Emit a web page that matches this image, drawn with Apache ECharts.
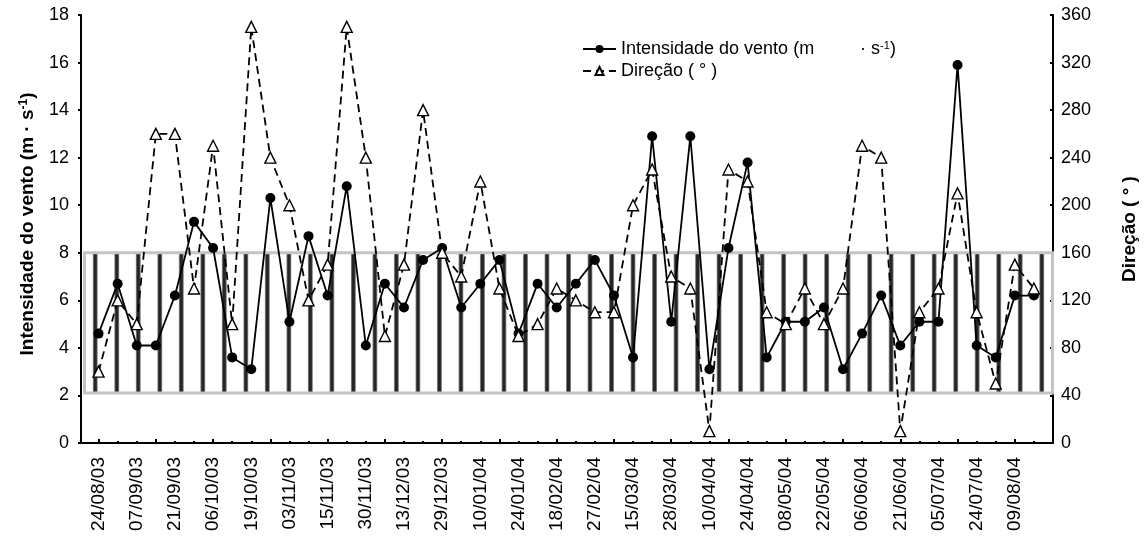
<!DOCTYPE html>
<html>
<head>
<meta charset="utf-8">
<script src="https://cdn.jsdelivr.net/npm/echarts@6/dist/echarts.min.js"></script>
<style>
  html, body { margin: 0; padding: 0; background: #fff; }
  #chart { width: 1148px; height: 539px; }
</style>
</head>
<body>
<div id="chart"></div>
<script>
// Dates printed under every second observation
const dateLabels = [
  '24/08/03', '07/09/03', '21/09/03', '06/10/03', '19/10/03', '03/11/03', '15/11/03',
  '30/11/03', '13/12/03', '29/12/03', '10/01/04', '24/01/04', '18/02/04', '27/02/04',
  '15/03/04', '28/03/04', '10/04/04', '24/04/04', '08/05/04', '22/05/04', '06/06/04',
  '21/06/04', '05/07/04', '24/07/04', '09/08/04'
];

// Wind speed (m s-1), one value per observation
const intensity = [
  4.6, 6.7, 4.1, 4.1, 6.2, 9.3, 8.2, 3.6, 3.1, 10.3,
  5.1, 8.7, 6.2, 10.8, 4.1, 6.7, 5.7, 7.7, 8.2, 5.7,
  6.7, 7.7, 4.6, 6.7, 5.7, 6.7, 7.7, 6.2, 3.6, 12.9,
  5.1, 12.9, 3.1, 8.2, 11.8, 3.6, 5.1, 5.1, 5.7, 3.1,
  4.6, 6.2, 4.1, 5.1, 5.1, 15.9, 4.1, 3.6, 6.2, 6.2
];

// Wind direction (degrees), one value per observation
const direction = [
  60, 120, 100, 260, 260, 130, 250, 100, 350, 240,
  200, 120, 150, 350, 240, 90, 150, 280, 160, 140,
  220, 130, 90, 100, 130, 120, 110, 110, 200, 230,
  140, 130, 10, 230, 220, 110, 100, 130, 100, 130,
  250, 240, 10, 110, 130, 210, 110, 50, 150, 130
];

// Reference band on the speed axis (m s-1), shown as a striped box
const bandLow = 2.1;
const bandHigh = 8;
const stripeCount = 45;

const speedAxis = { min: 0, max: 18, interval: 2 };
const dirAxis = { min: 0, max: 360, interval: 40 };

const speedName = 'Intensidade do vento';
const dirName = 'Direção';

const FONT = '"Liberation Sans", Arial, sans-serif';

const obsIndex = intensity.map((_, i) => i);
const speedData = intensity.map((v, i) => [i, v]);
const dirData = direction.map((v, i) => [i, v]);
const labelPositions = dateLabels.map((_, i) => i * 2);
const majorTickPositions = obsIndex.filter(i => i % 3 === 0);
const stripeSlots = Array.from({ length: stripeCount }, (_, i) => i);

const chart = echarts.init(document.getElementById('chart'), null, { renderer: 'canvas' });

const stripeColor = new echarts.graphic.LinearGradient(0, 0, 1, 0, [
  { offset: 0, color: '#a8a8a8' },
  { offset: 0.3, color: '#262626' },
  { offset: 0.7, color: '#262626' },
  { offset: 1, color: '#a8a8a8' }
]);

const option = {
  backgroundColor: '#fff',
  animation: false,
  textStyle: { fontFamily: FONT, color: '#000' },
  legend: {
    left: 582,
    top: 40,
    orient: 'vertical',
    itemGap: 4,
    itemWidth: 33,
    itemHeight: 10,
    itemTextGap: 12,
    padding: 0,
    selectedMode: false,
    data: [speedName, dirName],
    formatter: function (name) {
      return name === speedName
        ? 'Intensidade do vento (m{gap| }· s{sup|-1})'
        : 'Direção ( ° )';
    },
    textStyle: {
      fontFamily: FONT,
      fontSize: 18,
      color: '#000',
      rich: {
        gap: { width: 46, fontSize: 18 },
        sup: { fontSize: 11, verticalAlign: 'top', fontFamily: FONT, color: '#000' }
      }
    }
  },
  grid: [
    { left: 81, right: 95, top: 15, bottom: 96 },
    { left: 84.5, right: 95.5, top: 15, bottom: 96 }
  ],
  xAxis: [
    {
      type: 'value',
      gridIndex: 0,
      min: -0.92,
      max: 50,
      position: 'bottom',
      splitLine: { show: false },
      axisLine: { show: true, onZero: false, lineStyle: { color: '#000', width: 2 } },
      axisTick: {
        show: true, inside: true, length: 4,
        customValues: majorTickPositions,
        lineStyle: { color: '#000', width: 2 }
      },
      axisLabel: {
        show: true,
        customValues: labelPositions,
        rotate: 90,
        margin: 14,
        fontSize: 19,
        fontFamily: FONT,
        color: '#000',
        formatter: function (v) { return dateLabels[Math.round(v / 2)]; }
      }
    },
    {
      type: 'value',
      gridIndex: 0,
      min: -0.92,
      max: 50,
      position: 'bottom',
      splitLine: { show: false },
      axisLine: { show: false, onZero: false },
      axisTick: {
        show: true, inside: true, length: 2,
        customValues: obsIndex,
        lineStyle: { color: '#000', width: 2 }
      },
      axisLabel: { show: false }
    },
    {
      type: 'category',
      gridIndex: 1,
      data: stripeSlots,
      boundaryGap: true,
      show: false
    }
  ],
  yAxis: [
    {
      type: 'value',
      gridIndex: 0,
      position: 'left',
      min: speedAxis.min, max: speedAxis.max, interval: speedAxis.interval,
      splitLine: { show: false },
      axisLine: { show: true, onZero: false, lineStyle: { color: '#000', width: 2 } },
      axisTick: { show: true, inside: false, length: 3, lineStyle: { color: '#000', width: 2 } },
      axisLabel: { fontSize: 18, fontFamily: FONT, color: '#000', margin: 12 },
      name: 'Intensidade do vento (m \u00b7 s{sup|-1})',
      nameLocation: 'middle',
      nameRotate: 90,
      nameGap: 44,
      nameTextStyle: {
        fontSize: 19, fontWeight: 'bold', fontFamily: FONT, color: '#000',
        padding: [0, 0, 0, 10],
        rich: { sup: { fontSize: 12, fontWeight: 'bold', verticalAlign: 'top', fontFamily: FONT, color: '#000' } }
      }
    },
    {
      type: 'value',
      gridIndex: 0,
      position: 'right',
      min: dirAxis.min, max: dirAxis.max, interval: dirAxis.interval,
      splitLine: { show: false },
      axisLine: { show: true, onZero: false, lineStyle: { color: '#000', width: 2 } },
      axisTick: { show: true, inside: true, length: 3, lineStyle: { color: '#000', width: 2 } },
      axisLabel: { fontSize: 18, fontFamily: FONT, color: '#000', margin: 8 },
      name: 'Direção ( ° )',
      nameLocation: 'middle',
      nameRotate: 90,
      nameGap: 67,
      nameTextStyle: { fontSize: 19, fontWeight: 'bold', fontFamily: FONT, color: '#000' }
    },
    {
      type: 'value',
      gridIndex: 1,
      min: speedAxis.min, max: speedAxis.max,
      show: false,
      splitLine: { show: false }
    }
  ],
  series: [
    {
      // invisible base that lifts the stripes to the lower band limit
      type: 'bar',
      xAxisIndex: 2, yAxisIndex: 2,
      stack: 'band',
      silent: true,
      barWidth: 5,
      z: 0,
      itemStyle: { color: 'rgba(0,0,0,0)' },
      data: stripeSlots.map(() => bandLow)
    },
    {
      // dark vertical stripes filling the band
      type: 'bar',
      xAxisIndex: 2, yAxisIndex: 2,
      stack: 'band',
      silent: true,
      barWidth: 5,
      z: 0,
      itemStyle: { color: stripeColor },
      data: stripeSlots.map(() => bandHigh - bandLow),
      markArea: {
        silent: true,
        itemStyle: { color: 'rgba(0,0,0,0)', borderColor: '#c4c4c4', borderWidth: 3 },
        data: [[{ yAxis: bandLow }, { yAxis: bandHigh }]]
      }
    },
    {
      name: speedName,
      type: 'line',
      xAxisIndex: 0, yAxisIndex: 0,
      data: speedData,
      symbol: 'circle',
      symbolSize: 10,
      z: 4,
      itemStyle: { color: '#000' },
      lineStyle: { color: '#000', width: 1.8, type: 'solid' }
    },
    {
      name: dirName,
      type: 'line',
      xAxisIndex: 0, yAxisIndex: 1,
      data: dirData,
      symbol: 'triangle',
      symbolSize: [11, 11],
      z: 5,
      itemStyle: { color: '#fff', borderColor: '#000', borderWidth: 1.4 },
      lineStyle: { color: '#000', width: 1.8, type: [8, 5] }
    }
  ]
};

chart.setOption(option);
</script>
</body>
</html>
